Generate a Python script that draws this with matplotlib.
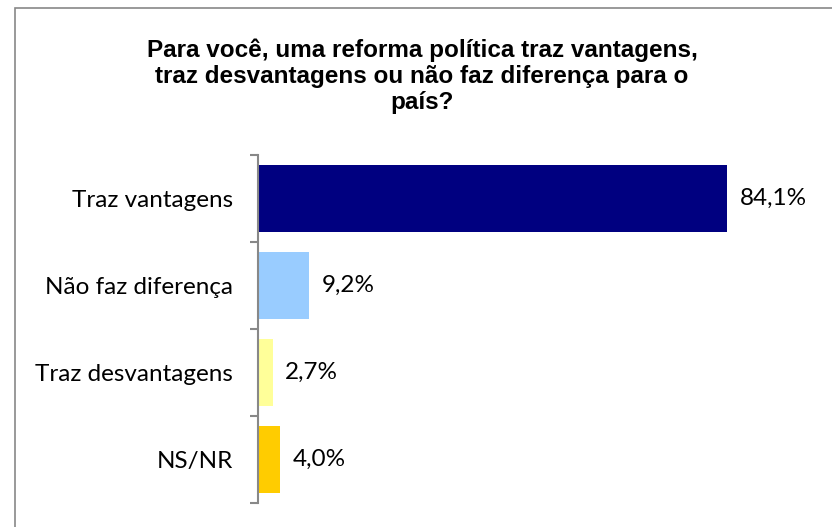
import matplotlib.pyplot as plt
from matplotlib.patches import Rectangle

categorias = ['Traz vantagens', 'Não faz diferença', 'Traz desvantagens', 'NS/NR']
valores = [84.1, 9.2, 2.7, 4.0]
rotulos = ['84,1%', '9,2%', '2,7%', '4,0%']
cores = ['#000080', '#99CCFF', '#FFFF99', '#FFCC00']

titulo = ('Para você, uma reforma política traz vantagens,\n'
          'traz desvantagens ou não faz diferença para o\n'
          'país?')

fig = plt.figure(figsize=(8.32, 5.27), dpi=100)
ax = fig.add_axes([258 / 832, 24 / 527, 558 / 832, 348 / 527])

pos = list(range(len(categorias)))
ax.barh(pos, valores, height=0.77, color=cores)

for p, v, r in zip(pos, valores, rotulos):
    ax.text(v + 2.2, p, r, va='center', ha='left', fontsize=17.5, family='Lato')

ax.set_xlim(0, 100)
ax.set_ylim(3.5, -0.5)
ax.set_xticks([])

# tracos nas divisas entre categorias, rotulos no centro
ax.set_yticks([-0.5, 0.5, 1.5, 2.5, 3.5])
ax.set_yticklabels([])
ax.set_yticks(pos, minor=True)
ax.set_yticklabels(categorias, minor=True, fontsize=17.5, family='Lato')
ax.tick_params(axis='y', which='major', length=6, width=1.5, color='#888888')
ax.tick_params(axis='y', which='minor', length=0, pad=18)

for s in ['top', 'right', 'bottom']:
    ax.spines[s].set_visible(False)
ax.spines['left'].set_color('#888888')
ax.spines['left'].set_linewidth(1.5)

fig.text(422 / 832, 1 - 76 / 527, titulo, ha='center', va='center',
         fontsize=17.5, fontweight='bold', family='Liberation Sans', linespacing=1.18)

# moldura do grafico
fig.patches.append(Rectangle((15 / 832, -0.1), 1.0, 1 - 8 / 527 + 0.1,
                             transform=fig.transFigure, fill=False,
                             edgecolor='#888888', linewidth=1.2))

fig.savefig('out.png', dpi=100)
